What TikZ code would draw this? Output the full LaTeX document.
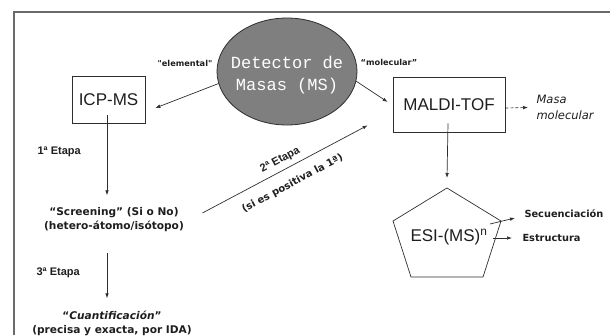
\documentclass[tikz,border=0pt]{standalone}
\usepackage{fontspec}
\setmainfont{Liberation Sans}
\newfontfamily\comicf{DejaVu Sans}
\newfontfamily\monof{Liberation Mono}
\usetikzlibrary{arrows.meta,shapes.geometric,calc}
\definecolor{ln}{HTML}{2E2E2E}
\definecolor{frm}{HTML}{6A6A6A}
\definecolor{ellfill}{HTML}{7F7F7F}
\definecolor{txt}{HTML}{1E1E1E}
\tikzset{
  arr/.style={draw=ln, line width=0.7pt, -{Latex[length=5pt,width=3.6pt]}},
  boxn/.style={draw=ln, line width=0.7pt, rectangle, inner sep=0pt, text=txt, font=\fontsize{17}{20}\selectfont},
  cbold/.style={text=txt, font=\comicf\bfseries\fontsize{10.6}{14}\selectfont, align=center},
  etapa/.style={text=txt, font=\bfseries\fontsize{11}{13}\selectfont},
  small/.style={text=txt, font=\comicf\bfseries\fontsize{8.2}{10}\selectfont},
}
\begin{document}
\begin{tikzpicture}[x=1pt,y=-1pt]
\useasboundingbox (0,0) rectangle (610,335);
% frame
\draw[frm, line width=1.2pt] (14,335) -- (14,12) -- (610,12);
% detector
\node[ellipse, draw=ln, line width=0.8pt, fill=ellfill, minimum width=140pt, minimum height=107pt, inner sep=0pt] (det) at (287,71.5) {};
\node[text=white, font=\monof\fontsize{17}{22}\selectfont, align=center] (dettxt) at (287,75) {Detector de\\Masas (MS)};
% labels
\node[small] (elem) at (185,63) {"elemental"};
\node[small] (molec) at (389,62) {“molecular”};
% boxes
\node[boxn, minimum width=73pt, minimum height=47pt] (icp) at (108.5,99.5) {ICP-MS};
\node[boxn, minimum width=112pt, minimum height=55pt] (maldi) at (449,104.5) {MALDI-TOF};
% pentagon
\coordinate (pt) at (447,188);
\draw[ln, line width=0.7pt] (pt) -- (501,221) -- (483,277) -- (411,277) -- (393,221) -- cycle;
\node[text=txt, font=\fontsize{17}{20}\selectfont, inner sep=0pt] (esi) at (449,237) {ESI-(MS)\textsuperscript{n}};
% right labels
\node[anchor=west, text=txt, font=\comicf\itshape\fontsize{11.5}{16}\selectfont, align=left] (masa) at (533,107) {Masa\\molecular};
\node[anchor=west, text=txt, font=\comicf\bfseries\fontsize{9.8}{12}\selectfont] (secu) at (521,214) {Secuenciación};
\node[anchor=west, text=txt, font=\comicf\bfseries\fontsize{9.8}{12}\selectfont] (estr) at (519,238) {Estructura};
% left texts
\node[etapa, anchor=west] (e1) at (34,152) {1ª Etapa};
\node[cbold] (scr) at (114,220) {“Screening” (Si o No)\\(hetero-átomo/isótopo)};
\node[etapa, anchor=west] (e3) at (33,273) {3ª Etapa};
\node[cbold] (cuan) at (112,323.5) {“{\itshape Cuantificación}”\\(precisa y exacta, por IDA)};
% connector end points
\coordinate (a1s) at ($(det.190)$);
\coordinate (a1e) at ($(icp.east)+(10,8.5)$);
\coordinate (a2s) at ($(det.352)$);
\coordinate (a2e) at ($(maldi.west)+(-5,-2.5)$);
\coordinate (a3s) at ($(maldi.east)+(0,3.5)$);
\coordinate (a3e) at ($(masa.west)+(-5,0.5)$);
\coordinate (a4s) at ($(maldi.south)+(-1,-9)$);
\coordinate (a4e) at ($(pt)+(0,-10)$);
\coordinate (a5s) at ($(icp.south)+(-1.5,-8)$);
\coordinate (a5e) at ($(icp.south)+(-1.5,72)$);
\coordinate (a6s) at ($(scr.east)+(15,-7)$);
\coordinate (a6e) at ($(maldi.south west)+(-25,-7)$);
\coordinate (a7s) at ($(icp.south)+(-1.5,130)$);
\coordinate (a7e) at ($(icp.south)+(-1.5,175)$);
\coordinate (a8s) at (490,224);
\coordinate (a8e) at ($(secu.west)+(-6,4)$);
\coordinate (a9s) at (493,238);
\coordinate (a9e) at ($(estr.west)+(-7,0)$);
% connectors
\draw[arr] (a1s) -- (a1e);
\draw[arr] (a2s) -- (a2e);
\draw[arr, dashed, dash pattern=on 3pt off 2pt] (a3s) -- (a3e);
\draw[arr] (a4s) -- (a4e);
\draw[arr] (a5s) -- (a5e);
\draw[arr] (a6s) -- (a6e)
  node[pos=0.5, sloped, above, inner sep=5pt, etapa] (e2) {2ª Etapa}
  node[pos=0.5, sloped, below, inner sep=11pt, text=txt, font=\comicf\bfseries\fontsize{10}{12}\selectfont] (si) {(si es positiva la 1ª)};
\draw[arr] (a7s) -- (a7e);
\draw[arr] (a8s) -- (a8e);
\draw[arr] (a9s) -- (a9e);
\end{tikzpicture}
\end{document}
